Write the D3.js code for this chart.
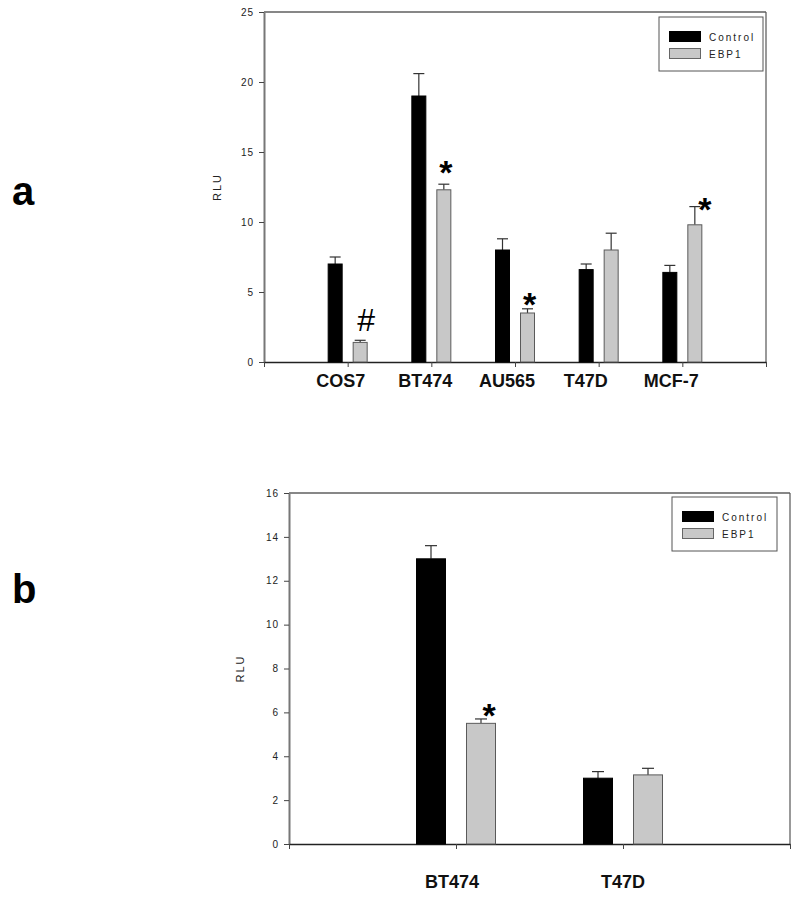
<!DOCTYPE html>
<html><head><meta charset="utf-8">
<script src="https://cdn.jsdelivr.net/npm/d3@7/dist/d3.min.js"></script>
<style>body{margin:0;background:#fff}svg{display:block}</style>
</head><body>
<script>
// Panel a data
const catsA = ["COS7","BT474","AU565","T47D","MCF-7"];
const controlA = [7.0, 19.0, 8.0, 6.6, 6.4];
const controlErrA = [0.5, 1.6, 0.8, 0.4, 0.5];
const ebp1A = [1.4, 12.3, 3.5, 8.0, 9.8];
const ebp1ErrA = [0.15, 0.4, 0.3, 1.2, 1.3];
const marksA = ["#", "*", "*", "", "*"];
const ticksA = [0,5,10,15,20,25];
// Panel b data
const catsB = ["BT474","T47D"];
const controlB = [13.0, 3.0];
const controlErrB = [0.6, 0.3];
const ebp1B = [5.5, 3.15];
const ebp1ErrB = [0.2, 0.3];
const marksB = ["*", ""];
const ticksB = [0,2,4,6,8,10,12,14,16];
const seriesNames = ["Control","EBP1"];

const svg = d3.select("body").append("svg").attr("width",800).attr("height",900);
const FONT = "Arial, Liberation Sans, sans-serif";

function panel(cfg){
  const g = svg.append("g");
  const x = d3.scaleLinear().domain([0, cfg.cats.length+1]).range([cfg.left, cfg.right]);
  const y = d3.scaleLinear().domain([0, cfg.ymax]).range([cfg.bottom, cfg.top]);
  g.append("line").attr("x1",cfg.left).attr("x2",cfg.right).attr("y1",cfg.top).attr("y2",cfg.top)
    .attr("stroke","#111").attr("stroke-width",1.2);
  g.append("line").attr("x1",cfg.right).attr("x2",cfg.right).attr("y1",cfg.top).attr("y2",cfg.bottom)
    .attr("stroke","#555").attr("stroke-width",1.2);
  const ya = g.append("g").attr("transform",`translate(${cfg.left},0)`)
    .call(d3.axisLeft(y).tickValues(cfg.ticks).tickSize(5).tickPadding(5).tickSizeOuter(0));
  ya.select(".domain").attr("stroke","#777").attr("stroke-width",2);
  ya.selectAll(".tick line").attr("stroke","#444");
  ya.selectAll(".tick text").attr("font-family",FONT).attr("font-size",10)
    .attr("fill","#222").attr("letter-spacing",1);
  const xa = g.append("g").attr("transform",`translate(0,${cfg.bottom})`)
    .call(d3.axisBottom(x).tickValues(d3.range(0, cfg.cats.length+2)).tickSize(5).tickFormat("").tickSizeOuter(0));
  xa.select(".domain").attr("stroke","#222").attr("stroke-width",1.5);
  xa.selectAll(".tick line").attr("stroke","#444");
  const series = [
    {vals:cfg.control, errs:cfg.controlErr, fill:"#000", stroke:"#000", off:-cfg.off},
    {vals:cfg.ebp1, errs:cfg.ebp1Err, fill:"#c8c8c8", stroke:"#5a5a5a", off:cfg.off}
  ];
  series.forEach(s=>{
    cfg.cats.forEach((c,i)=>{
      const cx = x(i+1)+s.off;
      const top = y(s.vals[i]), et = y(s.vals[i]+s.errs[i]);
      g.append("line").attr("x1",cx).attr("x2",cx).attr("y1",top).attr("y2",et).attr("stroke","#333").attr("stroke-width",1.2);
      g.append("line").attr("x1",cx-cfg.cap/2).attr("x2",cx+cfg.cap/2).attr("y1",et).attr("y2",et).attr("stroke","#333").attr("stroke-width",1.2);
      g.append("rect").attr("x",cx-cfg.bw/2+0.5).attr("y",top).attr("width",cfg.bw-1).attr("height",y(0)-top)
        .attr("fill",s.fill).attr("stroke",s.stroke).attr("stroke-width",1);
    });
  });
  cfg.marks.forEach((m,i)=>{
    if(!m) return;
    const cx = x(i+1)+cfg.off + cfg.markDx[i];
    const et = y(cfg.ebp1[i]+cfg.ebp1Err[i]);
    const center = et - cfg.markGap[i];
    const isHash = m==="#";
    const fs = isHash ? 32 : 34;
    const baseline = center + (isHash ? 0.34 : 0.6)*fs;
    g.append("text").attr("x",cx).attr("y",baseline).attr("text-anchor","middle")
      .attr("font-family",FONT).attr("font-weight",isHash?"normal":"bold")
      .attr("font-size",fs).text(m);
  });
  cfg.cats.forEach((c,i)=>{
    g.append("text").attr("x",x(i+1)+cfg.labelDx[i]).attr("y",cfg.labelY).attr("text-anchor","middle")
      .attr("font-family",FONT).attr("font-weight","bold").attr("font-size",18)
      .attr("fill","#111").text(c);
  });
  g.append("text").attr("transform",`translate(${cfg.ylabX},${(cfg.top+cfg.bottom)/2}) rotate(-90)`)
    .attr("text-anchor","middle").attr("font-family",FONT).attr("font-size",11)
    .attr("letter-spacing",2).attr("fill","#222").text("RLU");
  const L = cfg.legend;
  g.append("rect").attr("x",L.x).attr("y",L.y).attr("width",L.w).attr("height",L.h)
    .attr("fill","#fff").attr("stroke","#555").attr("stroke-width",1);
  seriesNames.forEach((n,k)=>{
    g.append("rect").attr("x",L.x+10.5).attr("y",L.y+14.5+k*17).attr("width",31).attr("height",10)
      .attr("fill",k===0?"#000":"#c8c8c8").attr("stroke",k===0?"#000":"#666");
    g.append("text").attr("x",L.x+50).attr("y",L.y+23.5+k*17).attr("font-family",FONT)
      .attr("font-size",10).attr("letter-spacing",2).attr("fill","#222").text(n);
  });
  svg.append("text").attr("x",12).attr("y",cfg.letterY).attr("font-family",FONT)
    .attr("font-weight","bold").attr("font-size",40).attr("fill","#000").text(cfg.letter);
}

panel({cats:catsA, control:controlA, controlErr:controlErrA, ebp1:ebp1A, ebp1Err:ebp1ErrA, marks:marksA,
  ticks:ticksA, ymax:25, left:264, right:766, top:12, bottom:362, off:12.5, bw:15, cap:11,
  markDx:[6,2,2,0,10], markGap:[20,21,13,0,6],
  labelDx:[-7,-6,-8,-13,-11], labelY:387, ylabX:221, letter:"a", letterY:205,
  legend:{x:659, y:17, w:104, h:54}});
panel({cats:catsB, control:controlB, controlErr:controlErrB, ebp1:ebp1B, ebp1Err:ebp1ErrB, marks:marksB,
  ticks:ticksB, ymax:16, left:289, right:790, top:493, bottom:844, off:25, bw:30, cap:12,
  markDx:[8,0], markGap:[12,0],
  labelDx:[-4,0], labelY:888, ylabX:244, letter:"b", letterY:603,
  legend:{x:672, y:497, w:105, h:54}});
</script>
</body></html>
